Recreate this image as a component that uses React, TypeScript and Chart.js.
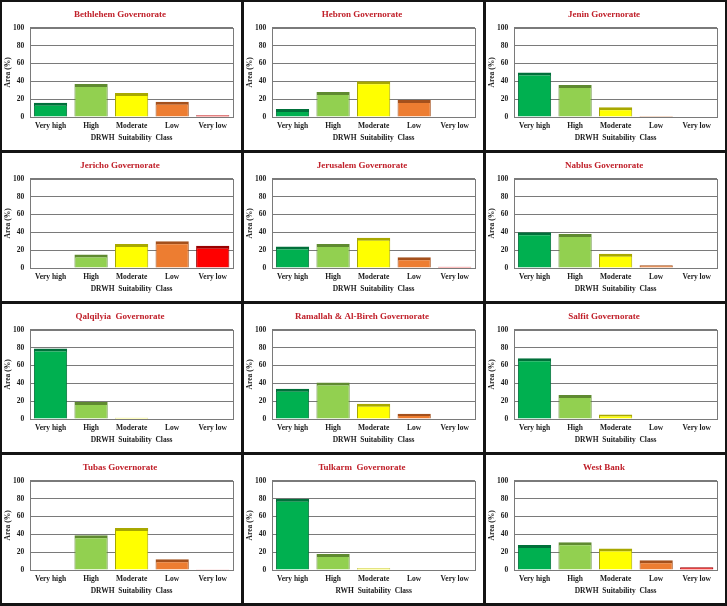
import React, { useEffect, useRef } from "react";
import { Chart, registerables } from "chart.js";

Chart.register(...registerables);

const categories = ["Very high", "High", "Moderate", "Low", "Very low"];
const yTicks = [0, 20, 40, 60, 80, 100];
const yTitle = "Area (%)";

const bethlehem = [16, 37, 27, 17, 2];
const hebron = [9, 28, 40, 19, 0.5];
const jenin = [50, 36, 11, 1, 0];
const jericho = [0, 15, 27, 30, 25];
const jerusalem = [24, 27, 34, 12, 1.5];
const nablus = [40, 38, 16, 3, 0];
const qalqilyia = [79, 19, 1.5, 0, 0];
const ramallah = [34, 41, 17, 6, 0.5];
const salfit = [68, 27, 5, 0.5, 0];
const tubas = [0.5, 39, 47, 12, 0.3];
const tulkarm = [80, 18, 2, 0, 0];
const westBank = [28, 31, 24, 11, 3];

const panels = [
  { title: "Bethlehem Governorate", values: bethlehem, xTitle: "DRWH  Suitability  Class" },
  { title: "Hebron Governorate", values: hebron, xTitle: "DRWH  Suitability  Class" },
  { title: "Jenin Governorate", values: jenin, xTitle: "DRWH  Suitability  Class" },
  { title: "Jericho Governorate", values: jericho, xTitle: "DRWH  Suitability  Class" },
  { title: "Jerusalem Governorate", values: jerusalem, xTitle: "DRWH  Suitability  Class" },
  { title: "Nablus Governorate", values: nablus, xTitle: "DRWH  Suitability  Class" },
  { title: "Qalqilyia  Governorate", values: qalqilyia, xTitle: "DRWH  Suitability  Class" },
  { title: "Ramallah & Al-Bireh Governorate", values: ramallah, xTitle: "DRWH  Suitability  Class" },
  { title: "Salfit Governorate", values: salfit, xTitle: "DRWH  Suitability  Class" },
  { title: "Tubas Governorate", values: tubas, xTitle: "DRWH  Suitability  Class" },
  { title: "Tulkarm  Governorate", values: tulkarm, xTitle: "RWH  Suitability  Class" },
  { title: "West Bank", values: westBank, xTitle: "DRWH  Suitability  Class" },
];

const fills = ["#00b050", "#92d050", "#ffff00", "#ed7d31", "#ff0000"];
const edges = ["#00703a", "#5f8a30", "#a8a800", "#a4501c", "#9a0000"];

const FONT = "'Liberation Serif', 'Times New Roman', serif";

const frame = {
  id: "frame",
  afterDraw(chart: any) {
    const { ctx, chartArea } = chart;
    ctx.save();
    ctx.strokeStyle = "#7a7a7a";
    ctx.lineWidth = 1;
    ctx.strokeRect(
      Math.round(chartArea.left) + 0.5,
      Math.round(chartArea.top) + 0.5,
      Math.round(chartArea.right - chartArea.left),
      Math.round(chartArea.bottom - chartArea.top)
    );
    // axis titles
    const xt = chart.options.plugins.frame.xTitle;
    ctx.fillStyle = "#1a1a1a";
    ctx.font = `bold 7.5px ${FONT}`;
    ctx.textAlign = "center";
    ctx.textBaseline = "middle";
    ctx.fillText(xt, (chartArea.left + chartArea.right) / 2, chartArea.bottom + 21);
    ctx.translate(6, (chartArea.top + chartArea.bottom) / 2);
    ctx.rotate(-Math.PI / 2);
    ctx.fillText(yTitle, 0, 0);
    ctx.restore();
  },
};

function Panel({ title, values, xTitle }: { title: string; values: number[]; xTitle: string }) {
  const ref = useRef<HTMLCanvasElement | null>(null);
  useEffect(() => {
    if (!ref.current) return;
    const chart = new Chart(ref.current, {
      type: "bar",
      data: {
        labels: categories,
        datasets: [
          {
            data: values,
            backgroundColor: fills,
            borderColor: edges,
            borderWidth: { top: 3, left: 1, right: 1, bottom: 0 } as any,
            borderSkipped: "start",
            categoryPercentage: 0.82,
            barPercentage: 1,
          },
        ],
      },
      options: {
        animation: false,
        responsive: false,
        maintainAspectRatio: false,
        layout: { padding: { left: 5, right: 8, top: 2, bottom: 14 } },
        plugins: {
          legend: { display: false },
          tooltip: { enabled: false },
          frame: { xTitle } as any,
          title: {
            display: true,
            text: title,
            color: "#c0202a",
            font: { family: FONT, size: 9, weight: "bold" },
            padding: { top: 5, bottom: 8 },
          },
        } as any,
        scales: {
          x: {
            grid: { display: false, drawTicks: false },
            border: { display: false },
            ticks: {
              color: "#1a1a1a",
              font: { family: FONT, size: 7.5, weight: "bold" },
              maxRotation: 0,
              autoSkip: false,
              padding: 5,
            },
          },
          y: {
            min: 0,
            max: 100,
            afterBuildTicks(axis: any) {
              axis.ticks = yTicks.map((v) => ({ value: v }));
            },
            grid: { color: "#7a7a7a", drawTicks: false, lineWidth: 1 },
            border: { display: false },
            ticks: {
              color: "#1a1a1a",
              font: { family: FONT, size: 7.5, weight: "bold" },
              padding: 6,
            },
          },
        },
      },
      plugins: [frame],
    });
    return () => chart.destroy();
  }, [title, values, xTitle]);
  return (
    <div style={{ background: "#ffffff", width: 239, height: 148, overflow: "hidden" }}>
      <canvas ref={ref} width={239} height={148} style={{ display: "block", width: 239, height: 148 }} />
    </div>
  );
}

export default function App() {
  return (
    <div
      style={{
        position: "fixed",
        left: 0,
        top: 0,
        width: 727,
        height: 606,
        boxSizing: "border-box",
        background: "#141414",
        padding: 2,
        display: "grid",
        gridTemplateColumns: "239px 239px 239px",
        gridTemplateRows: "148px 148px 148px 148px",
        columnGap: 3,
        rowGap: 3,
      }}
    >
      {panels.map((p) => (
        <Panel key={p.title} title={p.title} values={p.values} xTitle={p.xTitle} />
      ))}
    </div>
  );
}
